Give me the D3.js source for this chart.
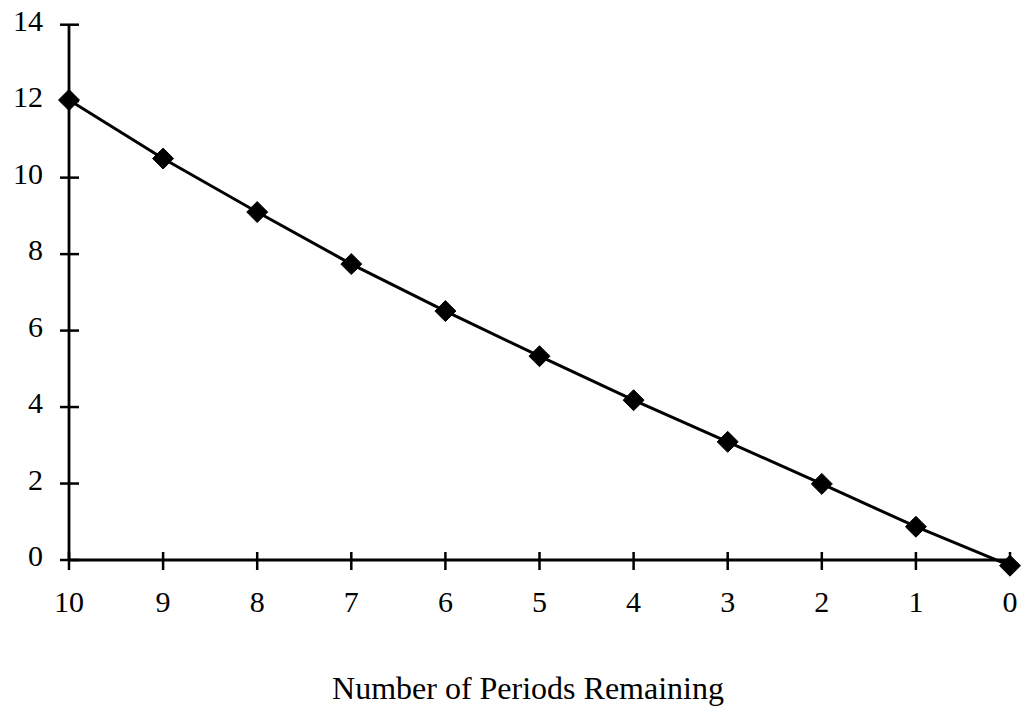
<!DOCTYPE html>
<html><head><meta charset="utf-8">
<script src="https://cdn.jsdelivr.net/npm/d3@7"></script>
<style>body{margin:0;background:#fff}svg{display:block}text{font-family:"Liberation Serif","Times New Roman",serif;fill:#000}</style>
</head><body>
<svg id="c" width="1022" height="714"></svg>
<script>
const periods = [10,9,8,7,6,5,4,3,2,1,0];
const values = [12.03,10.5,9.1,7.74,6.51,5.33,4.18,3.09,1.99,0.87,-0.15];
const yTicks = [0,2,4,6,8,10,12,14];
const xLabel = "Number of Periods Remaining";

const svg = d3.select("#c");
const x = d3.scaleLinear().domain([10,0]).range([69,1010]);
const y = d3.scaleLinear().domain([0,14]).range([560,24.7]);

// y axis
svg.append("line").attr("x1",69).attr("x2",69).attr("y1",y(14)).attr("y2",y(0))
  .attr("stroke","#000").attr("stroke-width",2.8);
svg.selectAll(".yt").data(yTicks).enter().append("line")
  .attr("x1",60).attr("x2",79).attr("y1",d=>y(d)).attr("y2",d=>y(d))
  .attr("stroke","#000").attr("stroke-width",2.5);
svg.selectAll(".yl").data(yTicks).enter().append("text")
  .attr("x",43).attr("y",d=>y(d)-4).attr("dy","0.34em").attr("text-anchor","end")
  .attr("font-size",30).text(d=>d);

// x axis
svg.append("line").attr("x1",69).attr("x2",1012).attr("y1",y(0)).attr("y2",y(0))
  .attr("stroke","#000").attr("stroke-width",2.8);
svg.selectAll(".xt").data(periods).enter().append("line")
  .attr("x1",d=>x(d)).attr("x2",d=>x(d)).attr("y1",552).attr("y2",570)
  .attr("stroke","#000").attr("stroke-width",2.5);
svg.selectAll(".xl").data(periods).enter().append("text")
  .attr("x",d=>x(d)).attr("y",612).attr("text-anchor","middle")
  .attr("font-size",30).text(d=>d);

svg.append("text").attr("x",528).attr("y",699).attr("text-anchor","middle")
  .attr("font-size",32).text(xLabel);

// line
const pts = periods.map((p,i)=>[p,values[i]]);
svg.append("path").datum(pts)
  .attr("d",d3.line().x(d=>x(d[0])).y(d=>y(d[1])))
  .attr("fill","none").attr("stroke","#000").attr("stroke-width",3);

// markers
svg.selectAll(".m").data(pts).enter().append("path")
  .attr("d",d3.symbol().type(d3.symbolDiamond2).size(280)())
  .attr("transform",d=>`translate(${x(d[0])},${y(d[1])})`)
  .attr("fill","#000").attr("stroke","#000").attr("stroke-width",1);
</script>
</body></html>
